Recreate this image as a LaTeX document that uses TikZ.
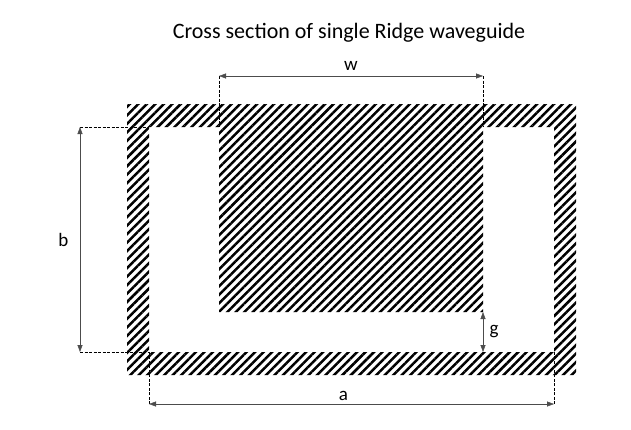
\documentclass[tikz,border=0pt]{standalone}
\usepackage{fontspec}
\setmainfont{Carlito}
\usetikzlibrary{patterns.meta,arrows.meta}

\tikzset{
 hatch/.style={pattern={Lines[angle=45,distance=6pt,line width=2.5pt]}},
 dimline/.style={draw=black!70,{Triangle[width=5pt,length=7pt]}-{Triangle[width=5pt,length=7pt]}},
 extline/.style={dashed,dash pattern=on 3pt off 1.5pt,line width=0.6pt},
 lbl/.style={font=\fontsize{19}{22}\selectfont}
}

\begin{document}
\begin{tikzpicture}[x=1pt,y=-1pt]
\useasboundingbox (0,0) rectangle (631,429);

% guide walls with ridge
\fill[hatch,even odd rule] (127,104) rectangle (576,375)
  (149,127) -- (219,127) -- (219,312) -- (483,312) -- (483,127)
  -- (554,127) -- (554,352) -- (149,352) -- cycle;

% corner points
\coordinate (wl) at (219,76);  \coordinate (wr) at (483,76);
\coordinate (bt) at (80,127);  \coordinate (bb) at (80,352);
\coordinate (al) at (149,404); \coordinate (ar) at (554,404);
\coordinate (gt) at (483,312); \coordinate (gb) at (483,352);

% extension lines
\draw[extline] (wl) -- (219,127);
\draw[extline] (wr) -- (483,127);
\draw[extline] (bt) -- (149,127);
\draw[extline] (bb) -- (149,352);
\draw[extline] (al) -- (149,352);
\draw[extline] (ar) -- (554,352);

% dimensions
\draw[dimline] (wl) -- (wr) node[midway,above=2pt,lbl]{w};
\draw[dimline] (bt) -- (bb) node[midway,left=8pt,lbl]{b};
\draw[dimline] (al) -- (ar) node[pos=0.48,above=0pt,lbl]{a};
\draw[dimline] (gt) -- (gb) node[midway,right=3pt,lbl]{g};

\node[font=\fontsize{22}{26}\selectfont] (title) at (349,33) {Cross section of single Ridge waveguide};
\end{tikzpicture}
\end{document}
